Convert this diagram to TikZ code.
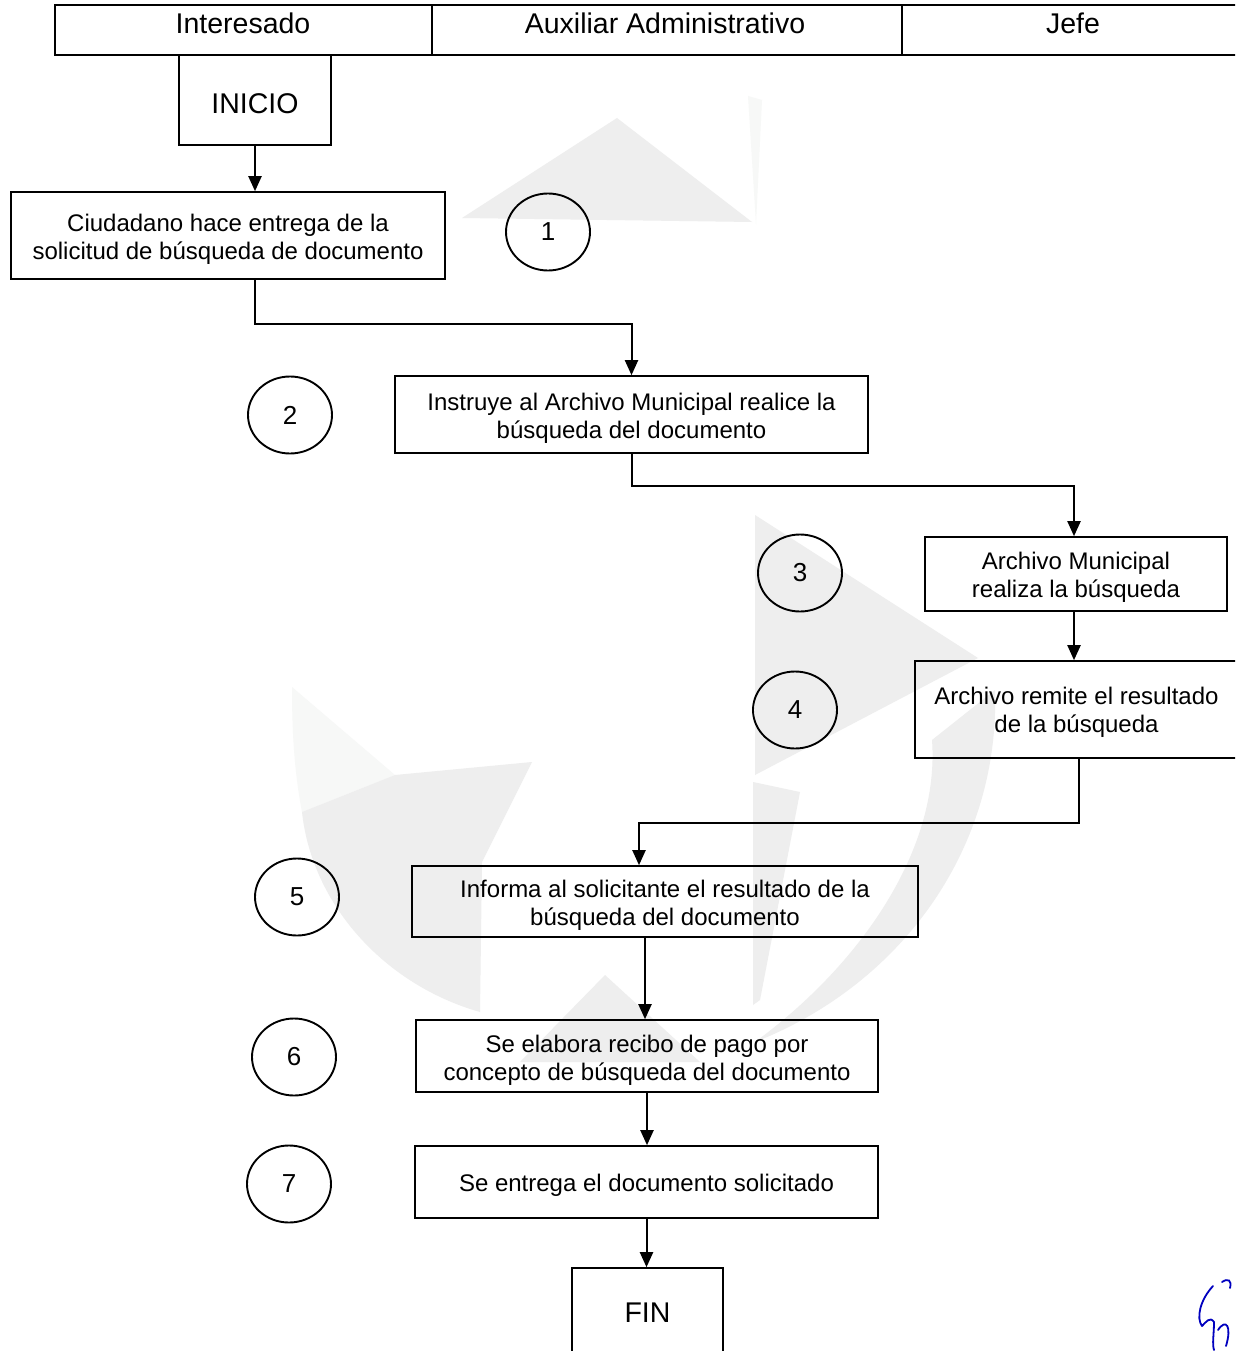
\documentclass[tikz,border=0pt]{standalone}
\usepackage{fontspec}
\setmainfont{Liberation Sans}
\usetikzlibrary{arrows.meta,shapes.geometric}

\tikzset{
  box/.style={draw, line width=1.6pt, inner sep=0pt},
  txt/.style={align=center, inner sep=0pt, font=\fontsize{24}{28}\selectfont},
  bigtxt/.style={inner sep=0pt, font=\fontsize{28.5}{30}\selectfont},
  num/.style={draw, ellipse, line width=1.9pt, minimum width=84pt, minimum height=77pt,
    inner sep=0pt, font=\fontsize{26}{28}\selectfont},
  arr/.style={line width=2pt, -{Triangle[width=13pt,length=15pt]}},
  wm/.style={fill=gray!13, draw=none},
  wmg/.style={fill=green!6!gray!6, draw=none}
}

\begin{document}
\begin{tikzpicture}[x=1pt, y=-1pt]
\useasboundingbox (0,0) rectangle (1235,1351);
\clip (0,0) rectangle (1235,1351);
\fill[white] (0,0) rectangle (1235,1351);

% faint background logo
\fill[wm] (462,218) -- (617,118) -- (752,222) -- cycle;
\fill[wmg] (748,96) -- (762,100) -- (756,224) -- cycle;
\fill[wm] (755,515) -- (978,658) -- (755,775) -- cycle;
\fill[wm] (753,782) -- (800,792) -- (760,1000) -- (753,1005) -- cycle;
\fill[wm] (995,690) .. controls (1000,850) and (900,985) .. (755,1042)
  .. controls (860,965) and (940,850) .. (932,740) -- cycle;
\fill[wmg] (292,687) -- (395,775) -- (302,812)
  .. controls (294,770) and (292,730) .. cycle;
\fill[wm] (302,812) .. controls (312,905) and (385,985) .. (480,1012)
  -- (482,862) -- (532,762) -- (395,775) -- cycle;
\fill[wm] (520,1062) -- (605,975) -- (700,1062) -- cycle;

% swimlane header
\draw[line width=1.6pt] (55,5) rectangle (1240,55);
\draw[line width=1.6pt] (432,5) -- (432,55);
\draw[line width=1.6pt] (902,5) -- (902,55);
\node[bigtxt] (lane1) at (243,23) {Interesado};
\node[bigtxt] (lane2) at (665,23) {Auxiliar Administrativo};
\node[bigtxt] (lane3) at (1073,23) {Jefe};

% process boxes (frames)
\node[box, minimum width=152pt, minimum height=90pt] (ini) at (255,100) {};
\node[box, minimum width=434pt, minimum height=87pt] (b1) at (228,235.5) {};
\node[box, minimum width=473pt, minimum height=77pt] (b2) at (631.5,414.5) {};
\node[box, minimum width=302pt, minimum height=74pt] (b3) at (1076,574) {};
\node[box, minimum width=323pt, minimum height=97pt] (b4) at (1076.5,709.5) {};
\node[box, minimum width=506pt, minimum height=71pt] (b5) at (665,901.5) {};
\node[box, minimum width=462pt, minimum height=72pt] (b6) at (647,1056) {};
\node[box, minimum width=463pt, minimum height=72pt] (b7) at (646.5,1182) {};
\node[box, minimum width=151pt, minimum height=100pt] (fin) at (647.5,1318) {};

% process box texts
\node[bigtxt] (ini-t) at ([yshift=-4pt]ini.center) {INICIO};
\node[txt] (b1-t) at ([yshift=-4pt]b1.center)
  {Ciudadano hace entrega de la\\solicitud de búsqueda de documento};
\node[txt] (b2-t) at ([yshift=-4pt]b2.center)
  {Instruye al Archivo Municipal realice la\\búsqueda del documento};
\node[txt] (b3-t) at ([yshift=-3pt]b3.center)
  {Archivo Municipal\\realiza la búsqueda};
\node[txt] (b4-t) at ([yshift=-3pt]b4.center)
  {Archivo remite el resultado\\de la búsqueda};
\node[txt] (b5-t) at ([yshift=-4pt]b5.center)
  {Informa al solicitante el resultado de la\\búsqueda del documento};
\node[txt] (b6-t) at ([yshift=-4pt]b6.center)
  {Se elabora recibo de pago por\\concepto de búsqueda del documento};
\node[txt] (b7-t) at ([yshift=-3pt]b7.center) {Se entrega el documento solicitado};
\node[bigtxt] (fin-t) at ([yshift=5pt]fin.center) {FIN};

% step numbers
\node[num] (n1) at (548,232) {1};
\node[num] (n2) at (290,415) {2};
\node[num] (n3) at (800,573) {3};
\node[num] (n4) at (795,710) {4};
\node[num] (n5) at (297,897) {5};
\node[num] (n6) at (294,1057) {6};
\node[num] (n7) at (289,1184) {7};

% connectors
\draw[arr] (ini.south) -- (ini.south |- b1.north);
\draw[arr] (ini.south |- b1.south) -- ++(0,44) -| (b2.north);
\draw[arr] (b2.south) -- ++(0,32) -| ([xshift=-2pt]b3.north);
\draw[arr] ([xshift=-2pt]b3.south) -- ([xshift=-2pt]b3.south |- b4.north);
\draw[arr] ([xshift=2pt]b4.south) -- ++(0,64) -| ([xshift=-26pt]b5.north);
\draw[arr] ([xshift=-20pt]b5.south) -- ([xshift=-20pt]b5.south |- b6.north);
\draw[arr] (b6.south) -- (b6.south |- b7.north);
\draw[arr] (b7.south) -- (b7.south |- fin.north);

% initials in ink
\draw[blue!75!black, line width=1.8pt, line cap=round, line join=round]
  (1213,1286) .. controls (1200,1300) and (1196,1318) .. (1202,1326)
  .. controls (1206,1322) and (1210,1316) .. (1214,1322)
  .. controls (1214,1334) and (1212,1344) .. (1214,1350);
\draw[blue!75!black, line width=1.8pt, line cap=round]
  (1222,1282) .. controls (1228,1278) and (1232,1280) .. (1230,1288)
  (1218,1330) .. controls (1226,1318) and (1232,1326) .. (1226,1346);
\end{tikzpicture}
\end{document}
